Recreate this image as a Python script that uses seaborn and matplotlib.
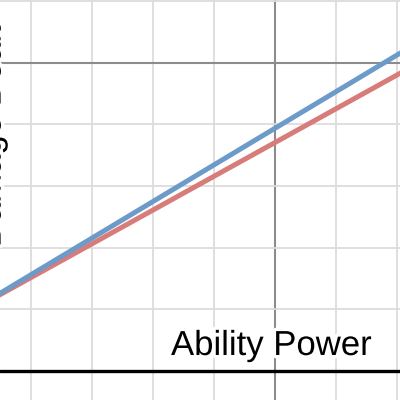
import matplotlib
matplotlib.use('Agg')
import matplotlib.pyplot as plt
import matplotlib.patheffects as pe
import pandas as pd
import seaborn as sns

# values (grid step = 100)
ability_power = [0, 800]
damage_red = [97, 535]
damage_blue = [97, 572]

x_ticks = [100, 200, 300, 400, 500, 600, 700]
y_ticks = [100, 200, 300, 400, 500, 600]
major_x = 500
major_y = 500

df = pd.DataFrame({
    "ap": ability_power * 2,
    "damage": damage_red + damage_blue,
    "series": ["red"] * 2 + ["blue"] * 2,
})

sns.set_theme(style="white")
plt.rcParams['font.family'] = ['Liberation Sans', 'DejaVu Sans']

fig = plt.figure(figsize=(4, 4), dpi=100)
ax = fig.add_axes([0, 0, 1, 1])

# grid like a graphing calculator
for x in x_ticks:
    c, lw = ("#8c8c8c", 1.5) if x == major_x else ("#dcdcdc", 1.3)
    ax.axvline(x, color=c, lw=lw, zorder=0)
for y in y_ticks:
    c, lw = ("#8c8c8c", 1.5) if y == major_y else ("#dcdcdc", 1.3)
    ax.axhline(y, color=c, lw=lw, zorder=0)
ax.axhline(0, color="black", lw=2.4, zorder=1)

sns.lineplot(data=df, x="ap", y="damage", hue="series",
             palette={"red": "#d77c79", "blue": "#6c9ac9"},
             lw=3.6, legend=False, ax=ax, zorder=3)

ax.set_xlim(49, 705)
ax.set_ylim(-47, 602)
ax.set_xticks([])
ax.set_yticks([])
ax.set_xlabel("")
ax.set_ylabel("")
for s in ax.spines.values():
    s.set_visible(False)

halo = [pe.withStroke(linewidth=5, foreground="white")]
ax.text(0.93, 0.1125, "Ability Power", transform=ax.transAxes,
        ha="right", va="baseline", fontsize=25, color="black",
        path_effects=halo, zorder=4)
# label sits mostly off the left edge, as in the reference
ax.text(0.019, 0.66, "Damage Dealt", transform=ax.transAxes,
        rotation=90, ha="right", va="center", fontsize=25, color="black",
        path_effects=halo, zorder=4)

fig.savefig("out.png", dpi=100)
plt.close(fig)
